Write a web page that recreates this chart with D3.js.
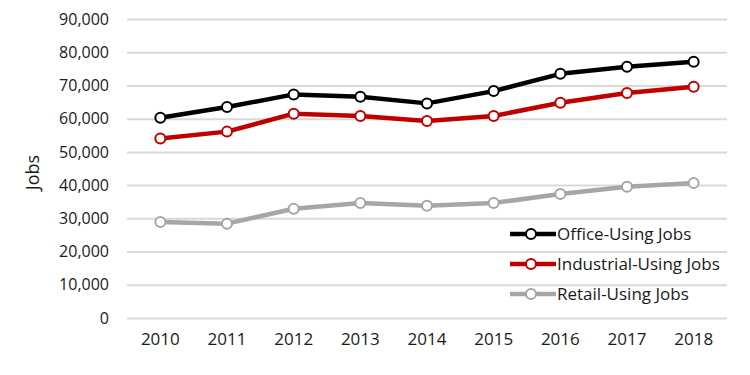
<!DOCTYPE html>
<html>
<head>
<meta charset="utf-8">
<script src="https://cdn.jsdelivr.net/npm/d3@7"></script>
<style>
  body { margin: 0; background: #fff; }
  text { font-family: "Open Sans", "Noto Sans", sans-serif; fill: #1a1a1a; }
</style>
</head>
<body>
<svg id="chart" width="750" height="375"></svg>
<script>
const years = ["2010", "2011", "2012", "2013", "2014", "2015", "2016", "2017", "2018"];
const officeJobs = [60300, 63500, 67300, 66600, 64600, 68300, 73500, 75600, 77100];
const industrialJobs = [54000, 56100, 61500, 60800, 59300, 60800, 64800, 67700, 69600];
const retailJobs = [28900, 28400, 32900, 34600, 33800, 34600, 37300, 39500, 40600];
const yTicks = [0, 10000, 20000, 30000, 40000, 50000, 60000, 70000, 80000, 90000];
const seriesNames = ["Office-Using Jobs", "Industrial-Using Jobs", "Retail-Using Jobs"];
const seriesColors = ["#000000", "#c00000", "#a6a6a6"];

const series = [officeJobs, industrialJobs, retailJobs].map((values, i) => ({
  name: seriesNames[i],
  color: seriesColors[i],
  values: values.map((v, j) => ({ year: years[j], v })),
}));

const svg = d3.select("#chart");
const plot = { left: 127, right: 727, top: 19, bottom: 318 };

const x = d3.scaleBand().domain(years).range([plot.left, plot.right]);
const y = d3.scaleLinear().domain([0, 90000]).range([plot.bottom, plot.top]);

// gridlines + y labels
const axisY = d3.axisLeft(y).tickValues(yTicks).tickSize(0).tickPadding(18)
  .tickFormat(d3.format(","));
svg.append("g")
  .attr("transform", `translate(${plot.left},0)`)
  .call(axisY)
  .call(g => g.select(".domain").remove())
  .call(g => g.selectAll(".tick text").attr("font-size", 16).attr("fill", "#1a1a1a"))
  .call(g => g.selectAll(".tick line").clone()
    .attr("stroke", "#d9d9d9")
    .attr("stroke-width", 2)
    .attr("x1", 0)
    .attr("x2", plot.right - plot.left));

const axisX = d3.axisBottom(x).tickSize(0).tickPadding(15);
svg.append("g")
  .attr("transform", `translate(0,${plot.bottom})`)
  .call(axisX)
  .call(g => g.select(".domain").remove())
  .call(g => g.selectAll(".tick text").attr("font-size", 17).attr("fill", "#1a1a1a"));

svg.append("text")
  .attr("transform", `translate(39,${(plot.top + plot.bottom) / 2 + 4}) rotate(-90)`)
  .attr("text-anchor", "middle")
  .attr("font-size", 18)
  .text("Jobs");

const line = d3.line()
  .x(d => x(d.year) + x.bandwidth() / 2)
  .y(d => y(d.v));

// draw bottom series first so black is on top
const groups = svg.append("g").selectAll("g")
  .data(series.slice().reverse())
  .join("g");

groups.append("path")
  .attr("d", d => line(d.values))
  .attr("fill", "none")
  .attr("stroke", d => d.color)
  .attr("stroke-width", 4.5)
  .attr("stroke-linejoin", "round");

groups.selectAll("circle")
  .data(d => d.values.map(p => ({ ...p, color: d.color })))
  .join("circle")
  .attr("cx", d => x(d.year) + x.bandwidth() / 2)
  .attr("cy", d => y(d.v))
  .attr("r", 5)
  .attr("fill", "#fff")
  .attr("stroke", d => d.color)
  .attr("stroke-width", 2);

// legend
const legend = svg.append("g").attr("transform", "translate(510,234)");
const item = legend.selectAll("g")
  .data(series)
  .join("g")
  .attr("transform", (d, i) => `translate(0,${i * 30})`);

item.append("line")
  .attr("x1", 0).attr("x2", 46)
  .attr("stroke", d => d.color)
  .attr("stroke-width", 4.5);
item.append("circle")
  .attr("cx", 21).attr("r", 5)
  .attr("fill", "#fff")
  .attr("stroke", d => d.color)
  .attr("stroke-width", 2);
item.append("text")
  .attr("x", 47)
  .attr("dy", "0.35em")
  .attr("font-size", 17)
  .text(d => d.name);
</script>
</body>
</html>
